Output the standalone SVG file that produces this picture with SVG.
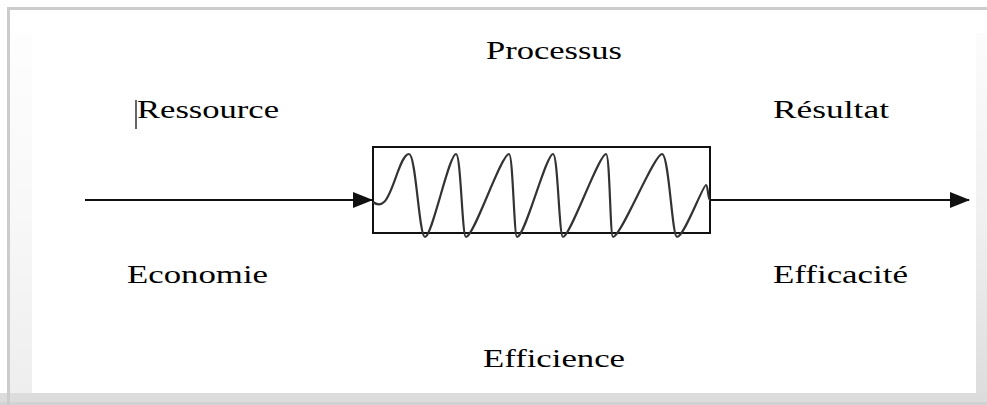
<svg xmlns="http://www.w3.org/2000/svg" width="987" height="405" viewBox="0 0 987 405">
  <style>
    .lbl { font-family: "Liberation Serif", "Times New Roman", serif; font-size: 25px; fill: #000; }
    .conn { stroke: #111; stroke-width: 2; fill: none; }
  </style>
  <defs>
    <marker id="arrow" markerUnits="userSpaceOnUse" markerWidth="20" markerHeight="16" refX="19" refY="8" orient="auto">
      <path d="M0,0 L20,8 L0,16 Z" fill="#111"/>
    </marker>
    <linearGradient id="shade" x1="0" y1="0" x2="0" y2="1">
      <stop offset="0" stop-color="#fcfcfc"/>
      <stop offset="0.5" stop-color="#f0f0f0"/>
      <stop offset="1" stop-color="#dcdcdc"/>
    </linearGradient>
  </defs>
  <g id="frame">
    <rect x="0" y="0" width="987" height="405" fill="#ffffff"/>
    <rect x="976" y="33" width="11" height="372" fill="url(#shade)"/>
    <rect x="10" y="33" width="22" height="372" fill="url(#shade)" opacity="0.5"/>
    <rect x="0" y="393" width="987" height="12" fill="#dcdcdc"/>
    <rect x="0" y="402" width="987" height="3" fill="#d2d2d2"/>
    <rect x="7" y="7" width="980" height="3" fill="#cccccc"/>
    <rect x="7" y="7" width="3" height="398" fill="#cccccc"/>
  </g>
  <g id="connectors">
    <line class="conn" x1="85" y1="200" x2="372" y2="200" marker-end="url(#arrow)"/>
    <line class="conn" x1="710" y1="200" x2="969" y2="200" marker-end="url(#arrow)"/>
  </g>
  <g id="processus-box">
    <rect x="373" y="147" width="337" height="86" fill="none" stroke="#111" stroke-width="2"/>
    <path fill="none" stroke="#333" stroke-width="2.2" d="M373,202 C377,205 381,205 384,202 C393,195 400,154 409,154 C416,154 419,237 425,237 C432,237 449,154 456,154 C461,154 462,237 466,237 C474,237 501,154 509,154 C513,154 514,237 517,237 C525,237 546,154 553,154 C558,154 559,237 563,237 C570,237 599,154 606,154 C610,154 610,237 613,237 C621,237 654,154 662,154 C669,154 672,237 677,237 C684,237 703,185 706,185 C708,185 708,200 710,200"/>
  </g>
  <g id="labels">
    <text class="lbl" x="486" y="59" textLength="136" lengthAdjust="spacingAndGlyphs">Processus</text>
    <line x1="136" y1="100" x2="136" y2="129" stroke="#333" stroke-width="1.5"/>
    <text class="lbl" x="137" y="118" textLength="142" lengthAdjust="spacingAndGlyphs">Ressource</text>
    <text class="lbl" x="773" y="118" textLength="116" lengthAdjust="spacingAndGlyphs">Résultat</text>
    <text class="lbl" x="127" y="283" textLength="141" lengthAdjust="spacingAndGlyphs">Economie</text>
    <text class="lbl" x="773" y="283" textLength="135" lengthAdjust="spacingAndGlyphs">Efficacité</text>
    <text class="lbl" x="483" y="367" textLength="142" lengthAdjust="spacingAndGlyphs">Efficience</text>
  </g>
</svg>
